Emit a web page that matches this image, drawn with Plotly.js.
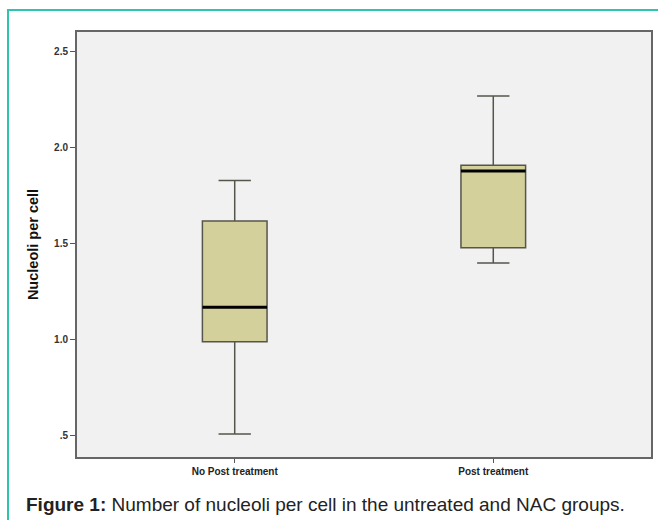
<!DOCTYPE html>
<html>
<head>
<meta charset="utf-8">
<script src="https://cdn.plot.ly/plotly-3.0.1.min.js"></script>
<style>
html,body{margin:0;padding:0;background:#fff;}
#wrap{position:relative;width:658px;height:520px;overflow:hidden;}
#frame{position:absolute;left:7px;top:9px;width:700px;height:600px;border-top:2px solid #2ec4b0;border-left:2px solid #2ec4b0;pointer-events:none;z-index:5;}
#chart{position:absolute;left:0;top:0;width:658px;height:520px;}
</style>
</head>
<body>
<div id="wrap"><div id="chart"></div><div id="frame"></div></div>
<script>
// Data
const categories = ["No Post treatment", "Post treatment"];
const lowerWhisker = [0.51, 1.40];
const q1Values = [0.99, 1.48];
const medianValues = [1.17, 1.88];
const q3Values = [1.62, 1.91];
const upperWhisker = [1.83, 2.27];
const yTickVals = [0.5, 1.0, 1.5, 2.0, 2.5];
const yTickText = [".5", "1.0", "1.5", "2.0", "2.5"];

const positions = categories.map((c, i) => i);
const boxWidth = 0.25;

const boxTrace = {
  type: 'box',
  x: positions,
  q1: q1Values,
  median: medianValues,
  q3: q3Values,
  lowerfence: lowerWhisker,
  upperfence: upperWhisker,
  width: boxWidth,
  whiskerwidth: 0.5,
  boxpoints: false,
  fillcolor: '#d4d09c',
  line: {color: '#55554c', width: 1.5},
  hoverinfo: 'skip',
  showlegend: false
};

const medX = [], medY = [];
positions.forEach((p, i) => {
  medX.push(p - boxWidth / 2, p + boxWidth / 2, null);
  medY.push(medianValues[i], medianValues[i], null);
});
const medianTrace = {
  type: 'scatter', mode: 'lines', x: medX, y: medY,
  line: {color: '#000', width: 3}, hoverinfo: 'skip', showlegend: false
};

const layout = {
  width: 658, height: 520,
  margin: {l: 77, r: 7, t: 32, b: 63},
  paper_bgcolor: 'rgba(0,0,0,0)',
  plot_bgcolor: '#f1f1f1',
  font: {family: 'Arial, "Liberation Sans", sans-serif', color: '#222'},
  showlegend: false,
  xaxis: {
    range: [-0.61, 1.61],
    tickvals: positions, ticktext: categories,
    tickfont: {size: 10, color: '#222', weight: 'bold'},
    ticks: 'outside', ticklen: 4, tickwidth: 1, tickcolor: '#555',
    showgrid: false, zeroline: false,
    showline: true, linecolor: '#666', linewidth: 2, mirror: true
  },
  yaxis: {
    range: [0.39, 2.604],
    tickvals: yTickVals, ticktext: yTickText,
    tickfont: {size: 10, color: '#333', weight: 'bold'},
    ticks: 'outside', ticklen: 5, tickwidth: 1, tickcolor: '#555',
    showgrid: false, zeroline: false,
    showline: true, linecolor: '#666', linewidth: 2, mirror: true,
    title: {text: 'Nucleoli per cell', font: {size: 14.5, color: '#111', weight: 'bold'}, standoff: 12}
  },
  annotations: [{
    xref: 'paper', yref: 'paper',
    x: -0.093, y: -0.111, xanchor: 'left', yanchor: 'middle',
    text: '<b>Figure 1:</b> Number of nucleoli per cell in the untreated and NAC groups.',
    showarrow: false,
    font: {size: 19, color: '#222', family: 'Arial, "Liberation Sans", sans-serif'}
  }]
};

Plotly.newPlot('chart', [boxTrace, medianTrace], layout, {displayModeBar: false, staticPlot: true});
</script>
</body>
</html>
